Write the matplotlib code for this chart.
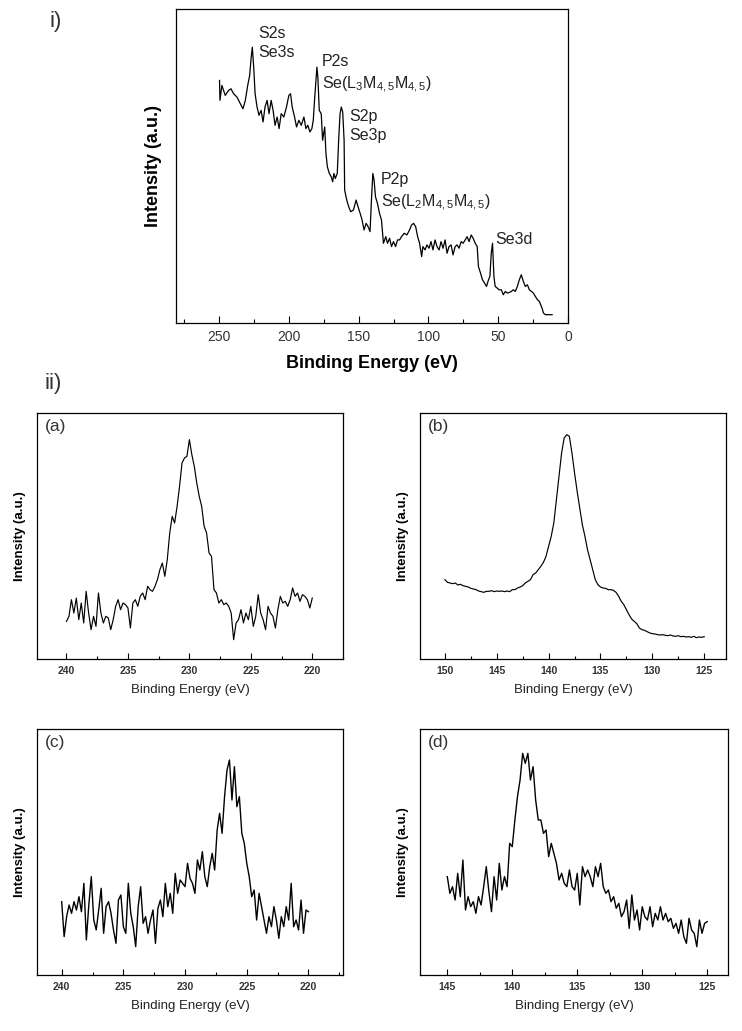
import numpy as np
import matplotlib
matplotlib.use("Agg")
import matplotlib.pyplot as plt
from matplotlib.ticker import MultipleLocator

plt.rcParams['font.family'] = ['Liberation Sans', 'DejaVu Sans']
plt.rcParams['mathtext.fontset'] = 'custom'
plt.rcParams['mathtext.rm'] = 'Liberation Sans'
plt.rcParams['mathtext.it'] = 'Liberation Sans:italic'

# ---- i) survey spectrum (energy in eV, intensity a.u.) ----
survey_energy = [249.8, 249.5, 248.1, 245.7, 243.3, 241.6, 239.7, 237.3, 234.9, 233.0,
                 231.3, 229.6, 228.2, 227.2, 226.3, 225.3, 224.3, 222.9, 221.5, 220.0,
                 218.6, 217.2, 215.7, 214.3, 212.8, 211.4, 210.0, 208.5, 207.1, 205.6,
                 203.7, 201.8, 200.1, 198.9, 197.7, 196.0, 194.6, 192.9, 191.2, 189.3,
                 187.9, 186.5, 185.0, 183.6, 182.6, 181.7, 180.7, 180.0, 179.3, 178.3,
                 176.9, 175.9, 174.4, 173.5, 172.5, 171.1, 169.7, 168.7, 167.8, 166.8,
                 165.4, 164.4, 163.4, 162.5, 161.5, 160.5, 160.1, 158.6, 157.2, 155.8,
                 153.8, 151.9, 150.5, 149.0, 147.6, 146.2, 144.7, 143.3, 141.9, 140.9,
                 139.9, 139.0, 138.0, 136.6, 135.1, 133.7, 132.3, 130.6, 129.4, 127.9,
                 126.5, 125.1, 123.6, 122.2, 120.8, 119.3, 117.4, 115.5, 113.6, 112.1,
                 110.7, 109.2, 107.8, 106.4, 104.9, 104.0, 102.5, 101.1, 99.6, 98.2,
                 96.8, 95.3, 93.9, 92.4, 91.0, 89.6, 88.1, 86.7, 85.3, 83.8,
                 82.4, 80.9, 79.5, 78.1, 76.6, 75.2, 73.7, 72.3, 70.9, 69.4,
                 68.0, 66.5, 65.1, 64.2, 62.7, 61.3, 59.8, 58.4, 57.0, 56.0,
                 55.0, 54.1, 53.1, 52.2, 50.7, 49.3, 47.8, 46.4, 44.9, 43.5,
                 42.1, 40.6, 39.2, 37.8, 36.3, 34.9, 33.5, 32.0, 30.6, 29.1,
                 27.7, 26.2, 24.8, 23.4, 21.9, 20.5, 19.6, 18.6, 17.6, 16.2,
                 14.3, 11.4]
survey_int = [76, 70, 74.5, 71.5, 73, 73.5, 72, 71, 69, 67.5,
              70, 74.5, 77.5, 82.5, 86, 80, 72, 68, 65.5, 67,
              63.5, 68, 70, 66, 70, 67, 62.5, 65, 61.5, 66,
              65, 68, 71.5, 72, 68, 65, 62, 64, 62.5, 65,
              61.5, 62.5, 60.5, 61.5, 64, 70, 76, 80, 77, 67,
              66, 58, 62, 54, 50, 48, 47, 45.5, 48, 46.5,
              48, 58, 66, 68, 66.5, 58, 43, 40, 38, 36.5,
              37, 40, 38, 36, 34, 31, 33, 32, 30.5, 40,
              48, 46, 41, 39, 36, 34, 27, 29, 27, 28.5,
              26, 27.5, 26, 28, 28, 29, 30, 29.5, 31, 32.5,
              33, 32, 29, 27, 23, 26, 25, 26.5, 25.5, 27.5,
              25, 28, 26, 25, 27.5, 25.5, 28, 24, 26, 26.5,
              23.5, 26, 26.5, 25.5, 27.5, 27, 28, 29, 27.5, 29.5,
              28.5, 27, 26, 20, 18, 16, 15, 14, 16, 17,
              24, 27, 17, 14, 13.5, 13, 13, 11.5, 12.5, 12,
              12.2, 12.5, 13, 12.5, 14, 16, 17.5, 15.5, 14, 14.5,
              13, 12.5, 12, 11, 10, 9.5, 8.5, 7.5, 6, 5.5,
              5.5, 5.5]

# ---- ii) high-resolution spectra, one value per energy step ----
a_start, a_stop = 240.0, 220.0
a_int = [135, 150, 200, 160, 205, 140, 190, 130, 225, 160, 110, 150, 120, 220, 160, 130,
         150, 145, 110, 140, 180, 200, 170, 190, 185, 175, 115, 190, 200, 180, 210, 220,
         200, 240, 230, 225, 240, 260, 290, 310, 270, 320, 400, 450, 430, 480, 540, 610,
         625, 630, 680, 635, 600, 550, 510, 480, 420, 400, 340, 330, 230, 220, 190, 200,
         185, 190, 180, 160, 80, 130, 140, 170, 130, 160, 140, 180, 120, 150, 215, 160,
         140, 110, 180, 160, 150, 115, 170, 210, 190, 195, 180, 200, 235, 210, 220, 195,
         215, 210, 200, 175, 205]

b_start, b_stop = 150.0, 125.0
b_int = [260, 252, 250, 248, 250, 244, 246, 242, 240, 238, 234, 232, 230, 226, 224, 222,
         225, 225, 227, 224, 226, 225, 226, 224, 226, 224, 230, 230, 235, 238, 242, 250,
         255, 260, 275, 280, 290, 300, 312, 330, 360, 390, 430, 500, 570, 640, 685, 695,
         690, 640, 580, 525, 475, 425, 390, 350, 320, 290, 260, 245, 238, 235, 234, 230,
         230, 228, 222, 210, 195, 185, 170, 155, 142, 135, 128, 115, 110, 108, 104, 100,
         98, 97, 95, 94, 95, 93, 92, 94, 91, 90, 92, 89, 90, 88, 89, 87, 90, 86, 88,
         87, 89]

c_start, c_stop = 240.0, 220.0
c_int = [255, 150, 210, 245, 220, 255, 230, 270, 225, 310, 140, 245, 330, 200, 170, 230,
         295, 160, 240, 255, 220, 170, 130, 260, 275, 180, 160, 310, 220, 180, 120, 240,
         300, 190, 210, 160, 200, 230, 130, 235, 260, 210, 310, 240, 280, 220, 340, 280,
         320, 310, 300, 370, 325, 310, 280, 380, 350, 405, 330, 300, 360, 400, 350, 470,
         520, 460, 570, 650, 680, 560, 660, 540, 570, 460, 430, 370, 330, 270, 290, 200,
         280, 240, 200, 160, 210, 180, 240, 200, 145, 210, 180, 240, 200, 310, 180, 200,
         170, 260, 160, 230, 225]

d_start, d_stop = 145.0, 125.0
d_int = [330, 280, 300, 260, 340, 270, 380, 230, 270, 240, 255, 220, 270, 245, 300, 360,
         285, 225, 330, 260, 370, 290, 330, 300, 430, 420, 500, 570, 620, 700, 670, 700,
         620, 660, 560, 500, 500, 460, 470, 390, 430, 400, 370, 320, 340, 310, 300, 350,
         300, 290, 340, 245, 360, 330, 350, 330, 300, 360, 330, 370, 300, 280, 290, 255,
         270, 235, 250, 210, 225, 260, 175, 275, 200, 230, 170, 240, 210, 200, 240, 180,
         220, 200, 240, 200, 220, 195, 205, 175, 190, 160, 200, 150, 130, 205, 170, 160,
         120, 200, 160, 190, 195]

W, H = 742, 1031
fig = plt.figure(figsize=(W / 100, H / 100), dpi=100)


def box(l, t, r, b):
    # axes from pixel box (left, top, right, bottom)
    return fig.add_axes([l / W, 1 - b / H, (r - l) / W, (b - t) / H])


def style(ax, major, minor, fs, tlen):
    ax.set_yticks([])
    ax.xaxis.set_major_locator(MultipleLocator(major))
    ax.xaxis.set_minor_locator(MultipleLocator(minor))
    ax.tick_params(axis='x', which='major', direction='in', length=tlen, width=0.8,
                   labelsize=fs, pad=5)
    ax.tick_params(axis='x', which='minor', direction='in', length=tlen * 0.6, width=0.8)
    for s in ax.spines.values():
        s.set_linewidth(0.9)


# survey
ax0 = box(176, 9, 568, 323)
ax0.plot(survey_energy, survey_int, color='black', lw=0.9)
ax0.set_xlim(281, 0)
ax0.set_ylim(3, 97.5)
style(ax0, 50, 25, 10, 5)
for t in ax0.get_xticklabels():
    t.set_color('#333333')
ax0.set_xlabel('Binding Energy (eV)', fontsize=13, fontweight='bold', labelpad=8)
ax0.set_ylabel('Intensity (a.u.)', fontsize=13, fontweight='bold', labelpad=10)
ann = dict(fontsize=11.5, va='top', ha='left', linespacing=1.4, color='#222222')
ax0.text(222, 92.5, 'S2s\nSe3s', **ann)
ax0.text(176.4, 84, 'P2s\nSe(L$_3$M$_{4,5}$M$_{4,5}$)', **ann)
ax0.text(156.6, 67.5, 'S2p\nSe3p', **ann)
ax0.text(134.1, 48.5, 'P2p\nSe(L$_2$M$_{4,5}$M$_{4,5}$)', **ann)
ax0.text(52.1, 30.5, 'Se3d', **ann)
fig.text(50 / W, 1 - 22 / H, 'i)', fontsize=16, va='center', ha='left', color='#333333')
fig.text(45 / W, 1 - 383 / H, 'ii)', fontsize=16, va='center', ha='left', color='#333333')

panels = [
    ('(a)', (37, 413, 343, 659), a_start, a_stop, a_int, (242.4, 217.5), (22, 760), 0.85),
    ('(b)', (420, 413, 726, 659), b_start, b_stop, b_int, (152.4, 122.9), (22, 760), 0.85),
    ('(c)', (37, 729, 343, 975), c_start, c_stop, c_int, (242.0, 217.2), (35, 773), 1.0),
    ('(d)', (420, 729, 728, 975), d_start, d_stop, d_int, (147.1, 123.4), (35, 773), 1.0),
]
for label, px, e0, e1, vals, xl, yl, lw in panels:
    ax = box(*px)
    energy = np.linspace(e0, e1, len(vals))
    ax.plot(energy, vals, color='black', lw=lw)
    ax.set_xlim(*xl)
    ax.set_ylim(*yl)
    style(ax, 5, 2.5, 7.5, 4)
    for t in ax.get_xticklabels():
        t.set_fontweight('bold')
        t.set_color('#333333')
    ax.set_xlabel('Binding Energy (eV)', fontsize=9.5, color='#222222', labelpad=6)
    ax.set_ylabel('Intensity (a.u.)', fontsize=9.5, fontweight='bold', labelpad=8)
    ax.text(0.025, 0.975, label, transform=ax.transAxes, fontsize=12.5,
            va='top', ha='left', color='#333333')

fig.savefig('out.png', dpi=100)
